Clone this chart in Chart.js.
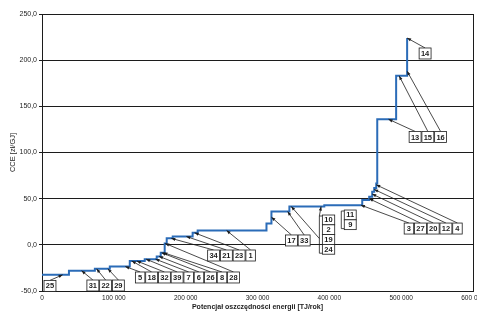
<!DOCTYPE html>
<html>
<head>
<meta charset="utf-8">
<script src="https://cdn.jsdelivr.net/npm/chart.js@4/dist/chart.umd.min.js"></script>
<style>
  html, body { margin: 0; padding: 0; background: #fff; }
  #wrap { width: 477px; height: 313px; }
</style>
</head>
<body>
<div id="wrap"><canvas id="cce-chart" width="477" height="313"></canvas></div>
<script>
// Cumulative energy-saving potential [TJ/rok] where each step of the curve starts,
// and the CCE value [zł/GJ] that holds from there on (last point closes the curve).
var POTENTIAL = [0, 37500, 73600, 94400, 122200, 143000, 159700, 165300, 170800, 173600,
    182000, 209700, 216700, 312500, 319400, 344400, 393000, 445800, 455500, 459700,
    462500, 465300, 466700, 493000, 508300];
var CCE = [-32.5, -28, -26, -23.5, -17.5, -15.5, -12.5, -8.5, 1.5, 7,
    9, 13, 15.5, 23, 36, 41.5, 43, 48.5, 52, 57.5,
    61.5, 66.5, 136, 183, 224];

var X_TICKS = [0, 100000, 200000, 300000, 400000, 500000, 600000];
var Y_TICKS = [-50, 0, 50, 100, 150, 200, 250];

// Measure numbers, in the label groups of the picture.
var MEASURE_GROUPS = [
    ['25'],
    ['31', '22', '29'],
    ['5', '18', '32', '39', '7', '6', '26', '8', '28'],
    ['34', '21', '23', '1'],
    ['17', '33'],
    ['10', '2', '19', '24'],
    ['11', '9'],
    ['3', '27', '20', '12', '4'],
    ['13', '15', '16'],
    ['14']
];
// Point on the curve each arrow of a group points at [potential, CCE].
var MEASURE_TARGETS = [
    [[28700, -32.5]],
    [[55100, -28], [76000, -26], [91700, -26]],
    [[116000, -23.5], [125000, -17.5], [132000, -17.5], [145000, -15.5], [158000, -15.5],
     [163000, -12.5], [166500, -8.5], [169000, -8.5], [171500, 1.5]],
    [[180000, 7], [201000, 9], [212500, 13], [257000, 15.5]],
    [[319400, 30], [342000, 36]],
    [[388500, 41.5], [347000, 41.5]],
    [],
    [[444000, 43], [455500, 50], [459700, 55], [462500, 60], [465300, 65]],
    [[482400, 136], [497200, 183], [508300, 188]],
    [[508300, 224]]
];

// Where each label group sits (top-left corner, in axis units) and how it is stacked.
var GROUP_LAYOUT = [
    { x: 2800, y: -38.5, dir: 'row' },
    { x: 62500, y: -38.1, dir: 'row' },
    { x: 130000, y: -29.4, dir: 'row' },
    { x: 230600, y: -5.6, dir: 'row' },
    { x: 338900, y: 10.7, dir: 'row' },
    { x: 390300, y: 32.3, dir: 'col' },
    { x: 420800, y: 37.7, dir: 'col' },
    { x: 504200, y: 23.6, dir: 'row' },
    { x: 511100, y: 122.8, dir: 'row' },
    { x: 525000, y: 213.2, dir: 'row' }
];

var INK = '#1c1c1c';
var LINE_BLUE = '#2b6cb8';
var FONT = "'Liberation Sans', Arial, sans-serif";

function fmtThousands(v) {
    return String(v).replace(/\B(?=(\d{3})+(?!\d))/g, ' ');
}

function drawArrow(ctx, x0, y0, x1, y1) {
    ctx.beginPath();
    ctx.moveTo(x0, y0);
    ctx.lineTo(x1, y1);
    ctx.stroke();
    var a = Math.atan2(y1 - y0, x1 - x0);
    var len = 4, half = 1.6;
    ctx.beginPath();
    ctx.moveTo(x1, y1);
    ctx.lineTo(x1 - len * Math.cos(a) + half * Math.sin(a), y1 - len * Math.sin(a) - half * Math.cos(a));
    ctx.lineTo(x1 - len * Math.cos(a) - half * Math.sin(a), y1 - len * Math.sin(a) + half * Math.cos(a));
    ctx.closePath();
    ctx.fill();
}

var measureLabels = {
    id: 'measureLabels',
    afterDatasetsDraw: function (chart) {
        var ctx = chart.ctx;
        var xs = chart.scales.x, ys = chart.scales.y;
        ctx.save();
        ctx.font = 'bold 7.5px ' + FONT;
        ctx.textAlign = 'center';
        ctx.textBaseline = 'middle';
        ctx.lineWidth = 0.8;
        ctx.strokeStyle = INK;
        ctx.fillStyle = INK;

        MEASURE_GROUPS.forEach(function (ids, g) {
            var lay = GROUP_LAYOUT[g];
            var left = xs.getPixelForValue(lay.x);
            var top = ys.getPixelForValue(lay.y);
            var h = 11, gap = 0.8;
            var boxes = [];
            if (lay.dir === 'row') {
                var cx = left;
                ids.forEach(function (id) {
                    var w = Math.max(ctx.measureText(id).width + 3.6, 9.5);
                    boxes.push({ x: cx, y: top, w: w, h: h, id: id });
                    cx += w + gap;
                });
            } else {
                var cw = 0;
                ids.forEach(function (id) { cw = Math.max(cw, ctx.measureText(id).width + 4); });
                var ch = 9.8;
                ids.forEach(function (id, i) {
                    boxes.push({ x: left, y: top + i * ch, w: cw, h: ch, id: id });
                });
            }

            // arrows first, boxes painted over them
            var targets = MEASURE_TARGETS[g];
            if (lay.dir === 'row') {
                targets.forEach(function (t, i) {
                    var b = boxes[i];
                    drawArrow(ctx, b.x + b.w / 2, b.y, xs.getPixelForValue(t[0]), ys.getPixelForValue(t[1]));
                });
            } else {
                var bx = left - 3;
                var gh = boxes.length * boxes[0].h;
                ctx.beginPath();
                ctx.moveTo(left, top + 1);
                ctx.lineTo(bx, top + 1);
                ctx.lineTo(bx, top + gh - 1);
                ctx.lineTo(left, top + gh - 1);
                ctx.stroke();
                targets.forEach(function (t, i) {
                    var sy = i === 0 ? top + 1 : top + gh * 0.6;
                    drawArrow(ctx, bx, sy, xs.getPixelForValue(t[0]), ys.getPixelForValue(t[1]));
                });
            }

            boxes.forEach(function (b) {
                ctx.fillStyle = '#fff';
                ctx.fillRect(b.x, b.y, b.w, b.h);
                ctx.strokeRect(b.x, b.y, b.w, b.h);
                ctx.fillStyle = INK;
                ctx.fillText(b.id, b.x + b.w / 2, b.y + b.h / 2 + 0.5);
            });
        });
        ctx.restore();
    }
};

var points = POTENTIAL.map(function (x, i) { return { x: x, y: CCE[i] }; });

new Chart(document.getElementById('cce-chart').getContext('2d'), {
    type: 'line',
    data: {
        datasets: [{
            data: points,
            stepped: 'before',
            borderColor: LINE_BLUE,
            borderWidth: 2,
            pointRadius: 0,
            fill: false
        }]
    },
    options: {
        responsive: false,
        animation: false,
        layout: { padding: { top: 14, right: 4, left: 0, bottom: 0 } },
        plugins: {
            legend: { display: false },
            tooltip: { enabled: false }
        },
        scales: {
            x: {
                type: 'linear',
                min: 0,
                max: 600000,
                afterBuildTicks: function (s) { s.ticks = X_TICKS.map(function (v) { return { value: v }; }); },
                ticks: {
                    color: INK,
                    font: { family: FONT, size: 6.5 },
                    padding: 3,
                    maxRotation: 0,
                    autoSkip: false,
                    callback: function (v) { return fmtThousands(v); }
                },
                grid: {
                    drawTicks: false,
                    color: function (c) { return c.tick && c.tick.value === 600000 ? INK : 'rgba(0,0,0,0)'; }
                },
                border: { display: true, color: INK, width: 1 },
                title: {
                    display: true,
                    text: 'Potencjał oszczędności energii [TJ/rok]',
                    color: INK,
                    font: { family: FONT, size: 7, weight: 'bold' },
                    padding: { top: 0, bottom: 2 }
                },
                afterFit: function (s) { s.height = 22; s.paddingLeft = 0; s.paddingRight = 0; }
            },
            y: {
                min: -50,
                max: 250,
                afterBuildTicks: function (s) { s.ticks = Y_TICKS.map(function (v) { return { value: v }; }); },
                ticks: {
                    color: INK,
                    font: { family: FONT, size: 7 },
                    padding: 2,
                    callback: function (v) { return v.toFixed(1).replace('.', ','); }
                },
                grid: { color: INK, lineWidth: 1, tickLength: 3 },
                border: { display: true, color: INK, width: 1 },
                title: {
                    display: true,
                    text: 'CCE [zł/GJ]',
                    color: INK,
                    font: { family: FONT, size: 7.5 },
                    padding: { top: 8, bottom: 0 }
                },
                afterFit: function (s) { s.width = 42; s.paddingTop = 0; s.paddingBottom = 0; }
            }
        }
    },
    plugins: [measureLabels]
});
</script>
</body>
</html>
